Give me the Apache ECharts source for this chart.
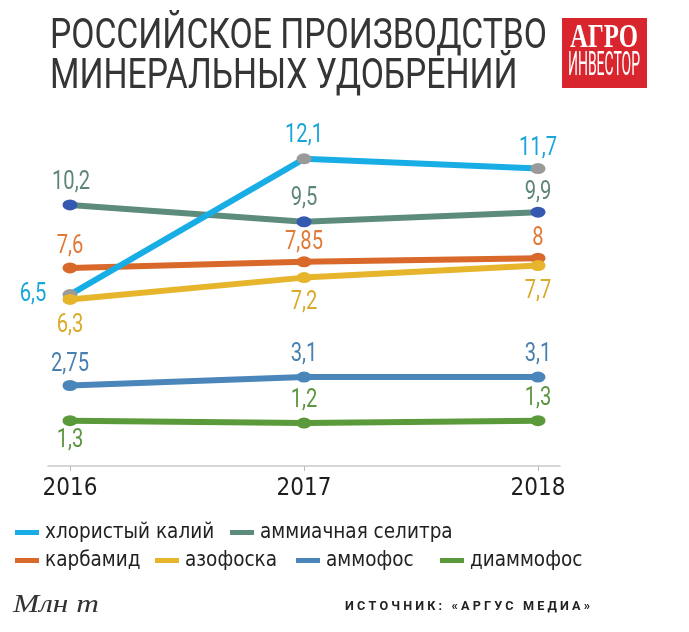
<!DOCTYPE html>
<html><head><meta charset="utf-8">
<script src="https://cdn.jsdelivr.net/npm/echarts@6/dist/echarts.min.js"></script>
<style>html,body{margin:0;padding:0;background:#fff}#c{width:689px;height:632px}</style>
</head><body><div id="c"></div>
<script>
const years = [2016, 2017, 2018];
const seriesNames = ['хлористый калий','аммиачная селитра','карбамид','азофоска','аммофос','диаммофос'];
const kcl = [6.5, 12.1, 11.7];
const ammNitrate = [10.2, 9.5, 9.9];
const urea = [7.6, 7.85, 8];
const azofoska = [6.3, 7.2, 7.7];
const ammofos = [2.75, 3.1, 3.1];
const diammofos = [1.3, 1.2, 1.3];
const valueSets = [kcl, ammNitrate, urea, azofoska, ammofos, diammofos];

const COND = '"DejaVu Sans Condensed","Liberation Sans Narrow",sans-serif';
const mctx = document.createElement('canvas').getContext('2d');
function textW(font, text) { mctx.font = font; return mctx.measureText(text).width; }

// label offsets (dx, dy) from the point centre, per point
const styles = [
  {line:'#19ade6', marker:'#9a9a9a', label:'#1aa5da', off:[[-37, 0], [0, -23], [0, -20]]},
  {line:'#5d8c7d', marker:'#3558b0', label:'#5d8578', off:[[1, -22], [0, -23], [0, -20]]},
  {line:'#d8692a', marker:'#d8692a', label:'#e07a36', off:[[0, -21], [0, -19], [0, -20]]},
  {line:'#e6b52c', marker:'#e6b52c', label:'#d9ab2a', off:[[0, 26], [0, 25], [0, 26]]},
  {line:'#4a86ba', marker:'#4a86ba', label:'#4a80b0', off:[[0, -21], [0, -23], [0, -23]]},
  {line:'#5a9a3a', marker:'#5a9a3a', label:'#5c9640', off:[[0, 20], [0, -23], [0, -22]]}
];
const legendPos = [[15, 522], [230, 522], [15, 550], [155, 550], [296, 550], [440, 550]];
const drawOrder = [1, 2, 0, 3, 4, 5];

const fmt = v => String(v).replace('.', ',');
const LABEL_FONT = '26px Roboto';
const LABEL_SX = 38 / textW(LABEL_FONT, '10,2');

const lineSeries = drawOrder.map((i, n) => ({
  name: seriesNames[i],
  type: 'line',
  symbol: 'circle',
  symbolSize: [15, 11],
  z: 2 + n,
  lineStyle: {color: styles[i].line, width: 6},
  itemStyle: {color: styles[i].marker},
  emphasis: {disabled: true},
  data: years.map((y, k) => [y, valueSets[i][k]])
}));

const labelSeries = seriesNames.map((nm, i) => ({
  name: nm + ' (подписи)',
  type: 'custom',
  coordinateSystem: 'cartesian2d',
  silent: true,
  z: 20,
  data: years.map((y, k) => [y, valueSets[i][k]]),
  renderItem: (params, api) => {
    const pt = api.coord([api.value(0), api.value(1)]);
    const off = styles[i].off[params.dataIndex];
    return {
      type: 'text',
      x: pt[0] + off[0], y: pt[1] + off[1],
      scaleX: LABEL_SX,
      style: {text: fmt(api.value(1)), fill: styles[i].label, font: LABEL_FONT, align: 'center', verticalAlign: 'middle'}
    };
  }
}));

const legends = seriesNames.map((nm, i) => ({
  left: legendPos[i][0], top: legendPos[i][1], padding: 0,
  itemWidth: 24, itemHeight: 5, selectedMode: false,
  data: [{name: nm, icon: 'rect', itemStyle: {color: styles[i].line}}],
  textStyle: {fontFamily: COND, fontSize: 20.5, color: '#222', lineHeight: 20, padding: [0, 0, 0, 1]}
}));

const TITLE_FONT = '42px Roboto';
const title1 = 'РОССИЙСКОЕ ПРОИЗВОДСТВО';
const title2 = 'МИНЕРАЛЬНЫХ УДОБРЕНИЙ';
const titleSX = 497 / textW(TITLE_FONT, title1);
const LOGO1_FONT = 'bold 33px "Liberation Serif", serif';
const LOGO2_FONT = '34px Roboto';
const UNIT_FONT = 'italic 26px "Liberation Serif", serif';
const SRC_FONT = 'bold 12px Roboto';
const srcText = 'И С Т О Ч Н И К :   « А Р Г У С   М Е Д И А »';

const chart = echarts.init(document.getElementById('c'), null, {renderer: 'canvas'});
chart.setOption({
  backgroundColor: '#fff',
  animation: false,
  grid: {left: 48, right: 129, top: 137, bottom: 166},
  xAxis: {
    type: 'value', min: 2015.906, max: 2018.094,
    axisLine: {show: true, onZero: false, lineStyle: {color: '#c9c9c9', width: 1.5}},
    axisTick: {show: true, customValues: years, length: 5, lineStyle: {color: '#bbb'}},
    axisLabel: {customValues: years, formatter: v => String(v), fontFamily: COND, fontSize: 24, color: '#1e1e1e', margin: 11},
    splitLine: {show: false}
  },
  yAxis: {type: 'value', min: -0.57, max: 13, show: false, splitLine: {show: false}},
  legend: legends,
  graphic: [
    {type: 'text', x: 50, y: 37, scaleX: titleSX, style: {text: title1, fill: '#353535', font: TITLE_FONT, verticalAlign: 'middle'}},
    {type: 'text', x: 50, y: 77, scaleX: titleSX, style: {text: title2, fill: '#353535', font: TITLE_FONT, verticalAlign: 'middle'}},
    {type: 'rect', shape: {x: 562, y: 18, width: 85, height: 70}, style: {fill: '#d9262e'}},
    {type: 'text', x: 604, y: 38, scaleX: 68 / textW(LOGO1_FONT, 'АГРО'), style: {text: 'АГРО', fill: '#fff', font: LOGO1_FONT, align: 'center', verticalAlign: 'middle'}},
    {type: 'text', x: 604, y: 66, scaleX: 72 / textW(LOGO2_FONT, 'ИНВЕСТОР'), style: {text: 'ИНВЕСТОР', fill: '#fff', font: LOGO2_FONT, align: 'center', verticalAlign: 'middle'}},
    {type: 'text', x: 13, y: 605, scaleX: 86 / textW(UNIT_FONT, 'Млн т'), style: {text: 'Млн т', fill: '#333', font: UNIT_FONT, verticalAlign: 'middle'}},
    {type: 'text', x: 345, y: 607, scaleX: 245 / textW(SRC_FONT, srcText), style: {text: srcText, fill: '#222', font: SRC_FONT, verticalAlign: 'middle'}}
  ],
  series: lineSeries.concat(labelSeries)
});
</script>
</body></html>
